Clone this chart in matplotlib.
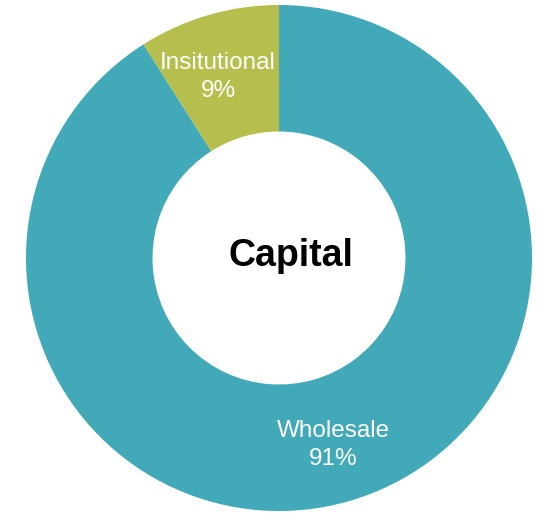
import matplotlib
matplotlib.use("Agg")
import matplotlib.pyplot as plt

categories = ["Wholesale", "Insitutional"]
values = [91, 9]
pct_labels = ["91%", "9%"]
colors = ["#41A9B7", "#B6BF4E"]

W, H = 546, 513
cx, cy, R = 279, 258, 253

fig = plt.figure(figsize=(W/100, H/100), dpi=100)
ax = fig.add_axes([0, 0, 1, 1])

ax.pie(values, colors=colors, startangle=90, counterclock=False,
       radius=1.0, wedgeprops=dict(width=0.5, edgecolor="none"))
ax.set_aspect("auto")
ax.set_xlim(-cx / R, (W - cx) / R)
ax.set_ylim(-(H - cy) / R, cy / R)
ax.axis("off")

def px(x, y):
    return ((x - cx) / R, (cy - y) / R)

font = ["Liberation Sans", "DejaVu Sans"]
label_pos = {"Wholesale": (333, 445), "Insitutional": (218, 77)}
for cat, pl in zip(categories, pct_labels):
    x, y = label_pos[cat]
    ax.text(*px(x, y), f"{cat}\n{pl}", ha="center", va="center", color="white",
            fontsize=17.5, family=font, linespacing=1.3)

ax.text(*px(291, 256), "Capital", ha="center", va="center", color="black",
        fontsize=27, fontweight="bold", family=font)

fig.savefig("out.png", dpi=100)
